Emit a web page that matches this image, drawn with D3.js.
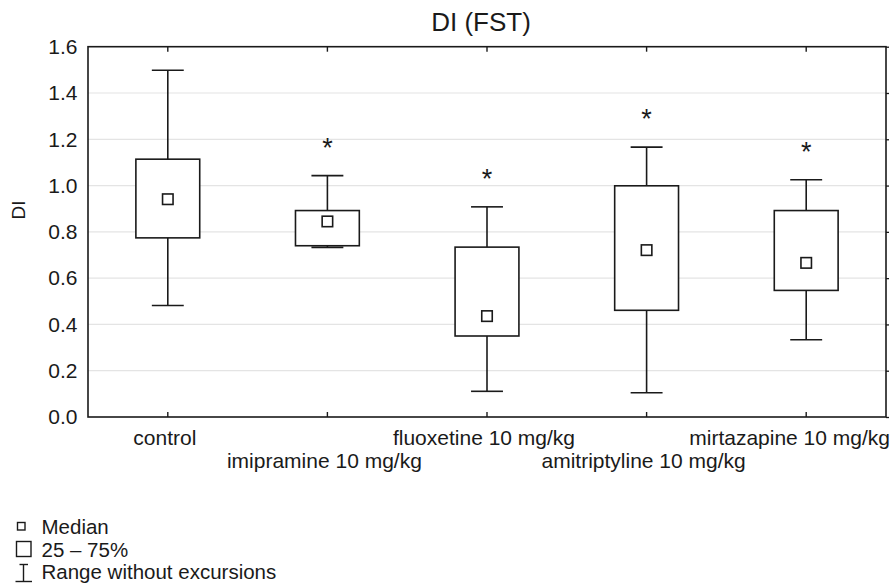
<!DOCTYPE html>
<html>
<head>
<meta charset="utf-8">
<script src="https://cdn.jsdelivr.net/npm/d3@7"></script>
<style>
  html, body { margin: 0; padding: 0; background: #fff; }
  svg { display: block; font-family: "Liberation Sans", Arial, sans-serif; }
</style>
</head>
<body>
<svg id="chart" width="895" height="588"></svg>
<script>
// ---- data ----
const categories = ["control", "imipramine 10 mg/kg", "fluoxetine 10 mg/kg", "amitriptyline 10 mg/kg", "mirtazapine 10 mg/kg"];
const whiskerLow  = [0.482, 0.733, 0.111, 0.105, 0.334];
const q25         = [0.774, 0.740, 0.350, 0.461, 0.547];
const medians     = [0.941, 0.845, 0.436, 0.721, 0.666];
const q75         = [1.114, 0.892, 0.734, 0.999, 0.892];
const whiskerHigh = [1.498, 1.043, 0.908, 1.166, 1.025];
const significant = [false, true, true, true, true];
const yTicks      = [0, 0.2, 0.4, 0.6, 0.8, 1.0, 1.2, 1.4, 1.6];
const legendItems = ["Median", "25 \u2013 75%", "Range without excursions"];
const title = "DI (FST)";
const yLabel = "DI";

// ---- layout ----
const svg = d3.select("#chart");
const W = 895, H = 588;
const m = { left: 88, right: 9, top: 46.7, bottom: 171 };
const plotR = W - m.right, plotB = H - m.bottom;
const ink = "#1a1a1a";

const x = d3.scaleBand().domain(categories).range([m.left, plotR]).padding(0);
const y = d3.scaleLinear().domain([0, 1.6]).range([plotB, m.top]);

const data = categories.map((c, i) => ({
  c, lo: whiskerLow[i], q1: q25[i], med: medians[i], q3: q75[i], hi: whiskerHigh[i], sig: significant[i]
}));

// gridlines
svg.append("g")
  .selectAll("line")
  .data(yTicks.filter(t => t > 0 && t < 1.6))
  .join("line")
  .attr("x1", m.left).attr("x2", plotR)
  .attr("y1", d => y(d)).attr("y2", d => y(d))
  .attr("stroke", "#e4e4e4").attr("stroke-width", 1.2);

// left axis labels
const yAxis = d3.axisLeft(y).tickValues(yTicks).tickFormat(d3.format(".1f")).tickSize(0).tickPadding(10.5);
const gy = svg.append("g").attr("transform", `translate(${m.left},0)`).call(yAxis);
gy.select(".domain").remove();
gy.selectAll("text").attr("font-size", 21).attr("fill", ink).attr("font-family", "Liberation Sans, Arial, sans-serif");

// right axis outward ticks
const yAxisR = d3.axisRight(y).tickValues(yTicks).tickFormat("").tickSize(3);
const gyr = svg.append("g").attr("transform", `translate(${plotR},0)`).call(yAxisR);
gyr.select(".domain").remove();
gyr.selectAll("line").attr("stroke", ink).attr("stroke-width", 1.3);

// x ticks inside (bottom and top)
const xB = d3.axisBottom(x).tickSize(-5).tickFormat("");
const gxb = svg.append("g").attr("transform", `translate(0,${plotB})`).call(xB);
gxb.select(".domain").remove();
gxb.selectAll("line").attr("stroke", ink).attr("stroke-width", 1.4);
const xT = d3.axisTop(x).tickSize(-5).tickFormat("");
const gxt = svg.append("g").attr("transform", `translate(0,${m.top})`).call(xT);
gxt.select(".domain").remove();
gxt.selectAll("line").attr("stroke", ink).attr("stroke-width", 1.4);

// x labels (staggered)
const xl = svg.append("g");
xl.selectAll("text")
  .data(categories)
  .join("text")
  .attr("x", d => x(d) + x.bandwidth() / 2 - 3)
  .attr("y", (d, i) => plotB + (i % 2 === 0 ? 28 : 50.5))
  .attr("text-anchor", "middle")
  .attr("font-size", 21)
  .attr("fill", ink)
  .text(d => d)
  .each(function () {
    const bb = this.getBBox();
    const maxR = W - 5;
    if (bb.x + bb.width > maxR) {
      d3.select(this).attr("x", +d3.select(this).attr("x") - (bb.x + bb.width - maxR));
    }
  });

// boxes
const bw = x.bandwidth() * 0.4, cw = x.bandwidth() * 0.2, ms = 10.5;
const g = svg.append("g").attr("stroke", ink).attr("stroke-width", 1.6).attr("fill", "none");
const cx = d => x(d.c) + x.bandwidth() / 2;

const box = g.selectAll("g.box").data(data).join("g").attr("class", "box");
box.append("line").attr("x1", cx).attr("x2", cx).attr("y1", d => y(d.hi)).attr("y2", d => y(d.q3));
box.append("line").attr("x1", cx).attr("x2", cx).attr("y1", d => y(d.q1)).attr("y2", d => y(d.lo));
box.append("line").attr("x1", d => cx(d) - cw / 2).attr("x2", d => cx(d) + cw / 2).attr("y1", d => y(d.hi)).attr("y2", d => y(d.hi));
box.append("line").attr("x1", d => cx(d) - cw / 2).attr("x2", d => cx(d) + cw / 2).attr("y1", d => y(d.lo)).attr("y2", d => y(d.lo));
box.append("rect").attr("x", d => cx(d) - bw / 2).attr("width", bw)
  .attr("y", d => y(d.q3)).attr("height", d => y(d.q1) - y(d.q3)).attr("fill", "#fff");
box.append("rect").attr("x", d => cx(d) - ms / 2).attr("width", ms)
  .attr("y", d => y(d.med) - ms / 2).attr("height", ms).attr("fill", "#fff");

// significance asterisks
svg.append("g").selectAll("text")
  .data(data.filter(d => d.sig))
  .join("text")
  .attr("x", cx)
  .attr("y", d => y(d.hi) - 19)
  .attr("text-anchor", "middle")
  .attr("font-size", 27)
  .attr("fill", ink)
  .text("*");

// frame
svg.append("rect").attr("x", m.left).attr("y", m.top)
  .attr("width", plotR - m.left).attr("height", plotB - m.top)
  .attr("fill", "none").attr("stroke", ink).attr("stroke-width", 1.6);

// title
svg.append("text").attr("x", 481).attr("y", 31).attr("text-anchor", "middle")
  .attr("font-size", 26).attr("fill", ink).text(title);

// y label
svg.append("text").attr("transform", `translate(25,210) rotate(-90)`)
  .attr("text-anchor", "middle").attr("font-size", 19).attr("fill", ink).text(yLabel);

// legend
const lg = svg.append("g").attr("stroke", ink).attr("fill", "none").attr("stroke-width", 1.4);
lg.append("rect").attr("x", 17.5).attr("y", 522.5).attr("width", 7.5).attr("height", 7.5);
lg.append("rect").attr("x", 16.5).attr("y", 541.5).attr("width", 14.5).attr("height", 15);
lg.append("line").attr("x1", 23.5).attr("x2", 23.5).attr("y1", 564.5).attr("y2", 581.5);
lg.append("line").attr("x1", 19.5).attr("x2", 28).attr("y1", 564.5).attr("y2", 564.5);
lg.append("line").attr("x1", 15.5).attr("x2", 32).attr("y1", 581.5).attr("y2", 581.5);
svg.append("g").selectAll("text").data(legendItems).join("text")
  .attr("x", 41.5).attr("y", (d, i) => 534 + i * 22.7)
  .attr("font-size", 20.5).attr("fill", ink).text(d => d);
</script>
</body>
</html>
